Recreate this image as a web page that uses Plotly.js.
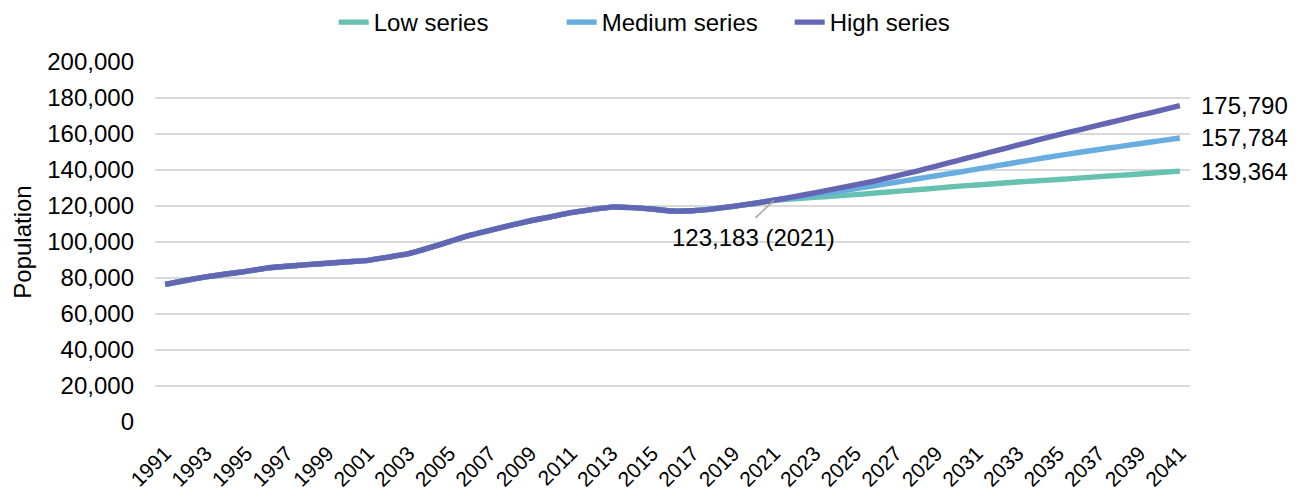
<!DOCTYPE html>
<html>
<head>
<meta charset="utf-8">
<script src="https://cdn.plot.ly/plotly-3.0.1.min.js"></script>
<style>
  html, body { margin: 0; padding: 0; background: #ffffff; }
  #chart { width: 1312px; height: 490px; }
</style>
</head>
<body>
<div id="chart"></div>
<script>
// ---- Data ----
const historicalYears = [1991,1992,1993,1994,1995,1996,1997,1998,1999,2000,
  2001,2002,2003,2004,2005,2006,2007,2008,2009,2010,
  2011,2012,2013,2014,2015,2016,2017,2018,2019,2020,2021];
const historicalPop = [76500,78600,80600,82200,83700,85500,86500,87400,88200,89000,
  89800,91600,93500,96700,100200,103700,106500,109200,111800,114000,
  116300,118000,119400,119100,118300,117200,117400,118400,119800,121400,123183];

const projectionYears = [2022,2023,2024,2025,2026,2027,2028,2029,2030,2031,
  2032,2033,2034,2035,2036,2037,2038,2039,2040,2041];
const lowSeries = [124000,124800,125500,126300,127200,128100,129000,129900,130900,131700,
  132500,133300,134000,134700,135500,136300,137000,137800,138600,139364];
const mediumSeries = [124700,126300,127900,129600,131400,133200,135000,136800,138600,140500,
  142400,144300,146200,148000,149700,151400,153000,154600,156200,157784];
const highSeries = [125200,127300,129500,131700,134000,136600,139300,142200,145100,148000,
  150900,153800,156700,159500,162200,164900,167600,170300,173000,175790];

const seriesNames = ["Low series", "Medium series", "High series"];
const seriesColors = ["#67C1B0", "#68ADE0", "#6366B3"];
const projections = [lowSeries, mediumSeries, highSeries];
const endLabels = ["139,364", "157,784", "175,790"];
const baseLabel = "123,183 (2021)";
const yTickVals = [0,20000,40000,60000,80000,100000,120000,140000,160000,180000,200000];

// ---- Build ----
const FONT = "Liberation Sans, Arial, Helvetica, sans-serif";
const allYears = historicalYears.concat(projectionYears);

const traces = projections.map((proj, i) => ({
  type: "scatter",
  mode: "lines",
  name: seriesNames[i],
  x: allYears,
  y: historicalPop.concat(proj),
  line: { color: seriesColors[i], width: 5.4, shape: "spline", smoothing: 0.5 },
  hoverinfo: "skip"
}));

const lastYear = allYears[allYears.length - 1];
const baseYear = historicalYears[historicalYears.length - 1];
const baseValue = historicalPop[historicalPop.length - 1];

const annotations = projections.map((proj, i) => ({
  x: lastYear, y: proj[proj.length - 1], xref: "x", yref: "y",
  text: endLabels[i], showarrow: false, xanchor: "left", yanchor: "middle",
  xshift: 19, font: { family: FONT, size: 24, color: "#000000" }
}));
// leader line
annotations.push({
  x: baseYear, y: baseValue, xref: "x", yref: "y", text: " ",
  showarrow: true, arrowhead: 0, arrowwidth: 1.5, arrowcolor: "#A6A6A6",
  ax: -20, ay: 19, standoff: 0, startstandoff: 0,
  font: { size: 1 }
});
// label text
annotations.push({
  x: baseYear, y: baseValue, xref: "x", yref: "y", text: baseLabel,
  showarrow: false, xanchor: "center", yanchor: "middle",
  xshift: -20, yshift: -37, font: { family: FONT, size: 24, color: "#000000" }
});

const oddYears = allYears.filter((y, i) => i % 2 === 0);

const layout = {
  width: 1312, height: 490,
  margin: { l: 155, r: 122, t: 62, b: 68 },
  paper_bgcolor: "#ffffff", plot_bgcolor: "#ffffff",
  font: { family: FONT, size: 24, color: "#000000" },
  showlegend: true,
  legend: {
    orientation: "h", xref: "container", yref: "container",
    x: 0.515, xanchor: "center", y: 1, yanchor: "top",
    font: { family: FONT, size: 24, color: "#000000" },
    entrywidthmode: "pixels", entrywidth: 183,
    itemwidth: 30, tracegroupgap: 0
  },
  xaxis: {
    type: "linear", range: [1990.5, 2041.5],
    tickmode: "array", tickvals: oddYears, ticktext: oddYears.map(String),
    tickangle: -45, showgrid: false, zeroline: false, showline: false,
    ticks: "", ticklabelstandoff: 14,
    tickfont: { family: FONT, size: 21, color: "#000000" }
  },
  yaxis: {
    range: [0, 200000], tickmode: "array", tickvals: yTickVals,
    ticktext: yTickVals.map(v => v.toLocaleString("en-US")),
    showgrid: true, gridcolor: "#D9D9D9", gridwidth: 1.3,
    zeroline: false, showline: false, ticks: "", ticklabelstandoff: 20,
    tickfont: { family: FONT, size: 24, color: "#000000" },
    title: { text: "Population", standoff: 8, font: { family: FONT, size: 24, color: "#000000" } }
  },
  annotations: annotations
};

Plotly.newPlot("chart", traces, layout, { displayModeBar: false, staticPlot: true });
</script>
</body>
</html>
